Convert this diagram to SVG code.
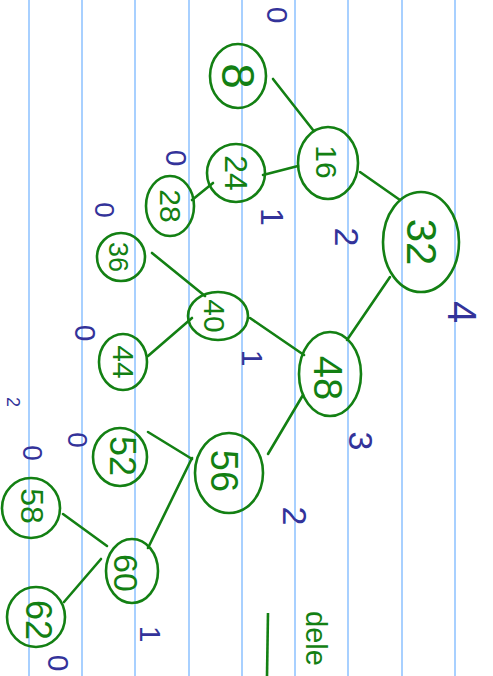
<svg xmlns="http://www.w3.org/2000/svg" width="493" height="676" viewBox="0 0 493 676">
<style>
.rule{stroke:#a8d0ff;stroke-width:2}
.n ellipse{fill:none;stroke:#138013;stroke-width:2.6}
.n text,.g{fill:#138013;font-family:"Liberation Sans",sans-serif;text-anchor:middle;dominant-baseline:central}
.e line{stroke:#138013;stroke-width:2.6;stroke-linecap:round}
.b{fill:#33339a;font-family:"Liberation Sans",sans-serif;text-anchor:middle;dominant-baseline:central}
</style>
<rect width="493" height="676" fill="#ffffff"/>
<g id="rules">
<line class="rule" x1="29" y1="0" x2="29" y2="676"/>
<line class="rule" x1="82" y1="0" x2="82" y2="676"/>
<line class="rule" x1="135" y1="0" x2="135" y2="676"/>
<line class="rule" x1="189" y1="0" x2="189" y2="676"/>
<line class="rule" x1="242" y1="0" x2="242" y2="676"/>
<line class="rule" x1="295" y1="0" x2="295" y2="676"/>
<line class="rule" x1="348" y1="0" x2="348" y2="676"/>
<line class="rule" x1="402" y1="0" x2="402" y2="676"/>
<line class="rule" x1="455" y1="0" x2="455" y2="676"/>
</g>
<g id="edges" class="e">
<line x1="273" y1="79" x2="313" y2="130"/>
<line x1="360" y1="172" x2="400" y2="200"/>
<line x1="263" y1="175" x2="298" y2="166"/>
<line x1="213" y1="183" x2="192" y2="200"/>
<line x1="152" y1="253" x2="205" y2="296"/>
<line x1="192" y1="318" x2="148" y2="356"/>
<line x1="250" y1="318" x2="304" y2="355"/>
<line x1="347" y1="340" x2="390" y2="277"/>
<line x1="303" y1="395" x2="268" y2="454"/>
<line x1="148" y1="432" x2="192" y2="459"/>
<line x1="192" y1="458" x2="148" y2="548"/>
<line x1="63" y1="514" x2="107" y2="546"/>
<line x1="101" y1="559" x2="64" y2="602"/>
</g>
<g id="n8" class="n"><ellipse cx="238" cy="76" rx="28" ry="32"/><text x="238" y="76" font-size="46" transform="rotate(90 238 76)">8</text></g>
<g id="n16" class="n"><ellipse cx="328" cy="163" rx="30" ry="36"/><text x="326" y="162" font-size="30" transform="rotate(90 326 162)">16</text></g>
<g id="n24" class="n"><ellipse cx="236" cy="173" rx="29" ry="29"/><text x="236" y="173" font-size="32" transform="rotate(90 236 173)">24</text></g>
<g id="n28" class="n"><ellipse cx="170" cy="206" rx="24" ry="30"/><text x="170" y="206" font-size="30" transform="rotate(90 170 206)">28</text></g>
<g id="n32" class="n"><ellipse cx="421" cy="242" rx="38" ry="50"/><text x="421" y="242" font-size="42" transform="rotate(90 421 242)">32</text></g>
<g id="n36" class="n"><ellipse cx="121" cy="257" rx="24" ry="24"/><text x="118" y="257" font-size="27" transform="rotate(90 118 257)">36</text></g>
<g id="n40" class="n"><ellipse cx="218" cy="316" rx="30" ry="24"/><text x="214" y="316" font-size="30" transform="rotate(90 214 316)">40</text></g>
<g id="n44" class="n"><ellipse cx="123" cy="362" rx="24" ry="28"/><text x="123" y="362" font-size="30" transform="rotate(90 123 362)">44</text></g>
<g id="n48" class="n"><ellipse cx="330" cy="374" rx="31" ry="42"/><text x="328" y="378" font-size="40" transform="rotate(90 328 378)">48</text></g>
<g id="n52" class="n"><ellipse cx="120" cy="457" rx="27" ry="29"/><text x="122" y="456" font-size="36" transform="rotate(90 122 456)">52</text></g>
<g id="n56" class="n"><ellipse cx="229" cy="473" rx="34" ry="40"/><text x="224" y="471" font-size="38" transform="rotate(90 224 471)">56</text></g>
<g id="n58" class="n"><ellipse cx="31" cy="508" rx="29" ry="30"/><text x="32" y="506" font-size="32" transform="rotate(90 32 506)">58</text></g>
<g id="n60" class="n"><ellipse cx="132" cy="571" rx="26" ry="32"/><text x="126" y="573" font-size="34" transform="rotate(90 126 573)">60</text></g>
<g id="n62" class="n"><ellipse cx="36" cy="617" rx="29" ry="30"/><text x="38" y="620" font-size="36" transform="rotate(90 38 620)">62</text></g>
<g id="labels">
<text class="b" x="277" y="15" font-size="30" transform="rotate(90 277 15)">0</text>
<text class="b" x="176" y="158" font-size="30" transform="rotate(90 176 158)">0</text>
<text class="b" x="104" y="210" font-size="28" transform="rotate(90 104 210)">0</text>
<text class="b" x="272" y="217" font-size="32" transform="rotate(90 272 217)">1</text>
<text class="b" x="347" y="237" font-size="34" transform="rotate(90 347 237)">2</text>
<text class="b" x="462" y="312" font-size="40" transform="rotate(90 462 312)">4</text>
<text class="b" x="85" y="333" font-size="30" transform="rotate(90 85 333)">0</text>
<text class="b" x="252" y="358" font-size="30" transform="rotate(90 252 358)">1</text>
<text class="b" x="361" y="441" font-size="34" transform="rotate(90 361 441)">3</text>
<text class="b" x="77" y="440" font-size="28" transform="rotate(90 77 440)">0</text>
<text class="b" x="32" y="453" font-size="28" transform="rotate(90 32 453)">0</text>
<text class="b" x="295" y="516" font-size="34" transform="rotate(90 295 516)">2</text>
<text class="b" x="150" y="634" font-size="30" transform="rotate(90 150 634)">1</text>
<text class="b" x="58" y="663" font-size="30" transform="rotate(90 58 663)">0</text>
<text class="b" x="13" y="402" font-size="18" transform="rotate(90 13 402)">2</text>
</g>
<g id="note">
<line x1="268" y1="613" x2="267" y2="676" stroke="#138013" stroke-width="2.6"/>
<text class="g" x="316" y="611" font-size="29" transform="rotate(90 316 611)" style="text-anchor:start">dele</text>
</g>
</svg>
